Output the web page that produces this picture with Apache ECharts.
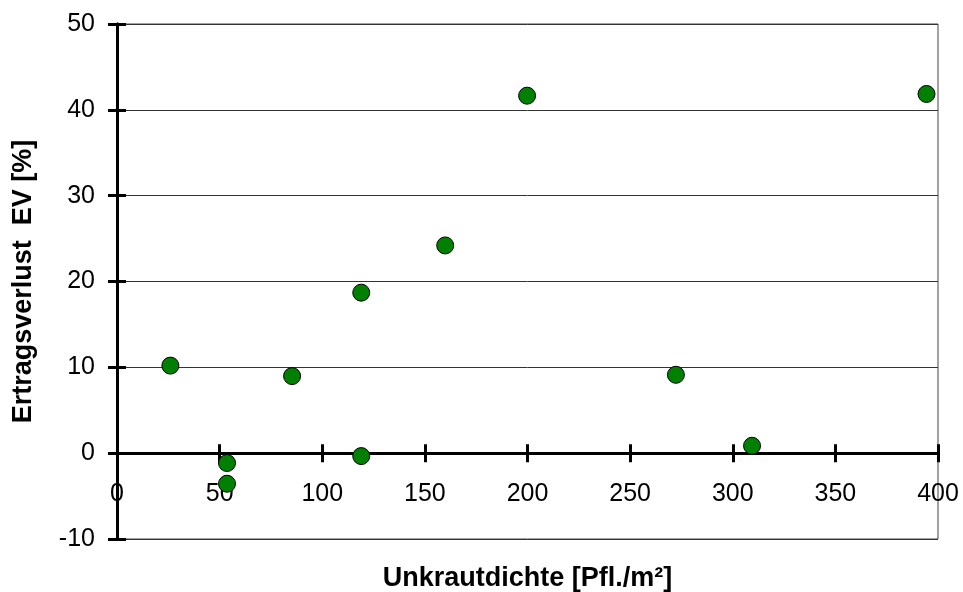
<!DOCTYPE html>
<html>
<head>
<meta charset="utf-8">
<script src="https://cdn.jsdelivr.net/npm/echarts@6/dist/echarts.min.js"></script>
<style>
html,body{margin:0;padding:0;background:#fff;}
#c{width:963px;height:592px;}
</style>
</head>
<body>
<div id="c"></div>
<script>
const xName = 'Unkrautdichte [Pfl./m²]';
const yName = 'Ertragsverlust  EV [%]';
const xValues = [26.0, 53.6, 53.6, 85.3, 119.0, 119.0, 159.9, 199.8, 272.3, 309.4, 394.4];
const yValues = [10.2, -1.15, -3.56, 8.98, 18.7, -0.34, 24.2, 41.65, 9.13, 0.86, 41.85];
const xTicks = [0, 50, 100, 150, 200, 250, 300, 350, 400];
const yTicks = [-10, 0, 10, 20, 30, 40, 50];

const points = xValues.map((x, i) => [x, yValues[i]]);
const font = 'Liberation Sans, Arial, sans-serif';

const chart = echarts.init(document.getElementById('c'));
const xBase = {
  type: 'value', min: xTicks[0], max: xTicks[xTicks.length - 1], interval: 50,
  position: 'bottom',
  axisLine: { onZero: true, lineStyle: { color: '#000', width: 3 } },
  splitLine: { show: false }
};
const yBase = {
  type: 'value', min: yTicks[0], max: yTicks[yTicks.length - 1], interval: 10,
  position: 'left',
  axisLine: { onZero: false, lineStyle: { color: '#000', width: 3 } }
};
chart.setOption({
  animation: false,
  grid: { left: 117, right: 25, top: 24, bottom: 53, outerBoundsMode: 'none', containLabel: false,
          show: true, borderColor: '#444', borderWidth: 1, backgroundColor: '#fff' },
  xAxis: [
    Object.assign({}, xBase, {
      name: xName, nameLocation: 'middle', nameGap: 26,
      nameTextStyle: { fontFamily: font, fontSize: 27, fontWeight: 'bold', color: '#000' },
      axisTick: { show: true, inside: false, length: 9, lineStyle: { color: '#000', width: 3 } },
      axisLabel: { show: true, margin: -57, fontFamily: font, fontSize: 25, color: '#000' }
    }),
    Object.assign({}, xBase, {
      axisTick: { show: true, inside: true, length: 9, lineStyle: { color: '#000', width: 3 } },
      axisLabel: { show: false }
    })
  ],
  yAxis: [
    Object.assign({}, yBase, {
      name: yName, nameLocation: 'middle', nameGap: 80,
      nameTextStyle: { fontFamily: font, fontSize: 27, fontWeight: 'bold', color: '#000' },
      axisTick: { show: true, inside: false, length: 9, lineStyle: { color: '#000', width: 3 } },
      axisLabel: { show: true, margin: 22, fontFamily: font, fontSize: 25, color: '#000' },
      splitLine: { show: true, lineStyle: { color: '#333', width: 1 } }
    }),
    Object.assign({}, yBase, {
      axisTick: { show: true, inside: true, length: 9, lineStyle: { color: '#000', width: 3 } },
      axisLabel: { show: false },
      splitLine: { show: false }
    })
  ],
  series: [{
    type: 'scatter',
    xAxisIndex: 0, yAxisIndex: 0,
    data: points,
    symbol: 'circle',
    symbolSize: 17,
    itemStyle: { color: '#008000', borderColor: '#000', borderWidth: 1, opacity: 1 },
    z: 10
  }]
});
</script>
</body>
</html>
